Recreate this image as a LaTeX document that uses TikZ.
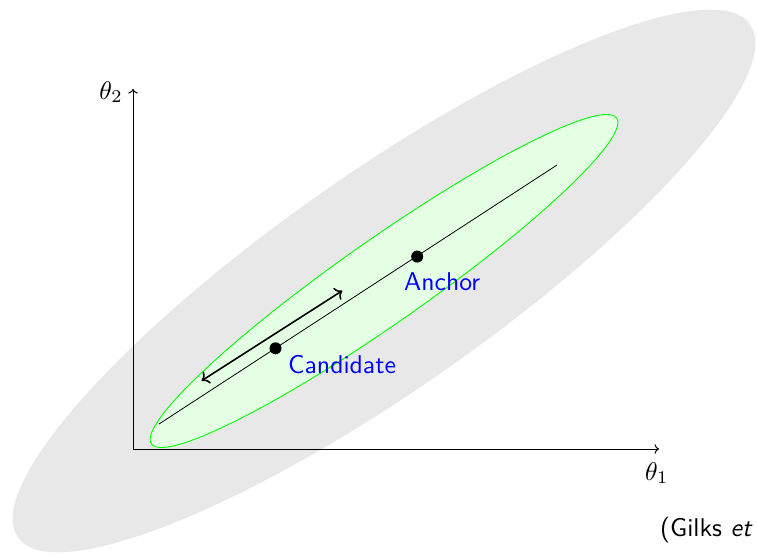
\documentclass[tikz,border=0pt]{standalone}
\usepackage{graphicx}
\usetikzlibrary{arrows.meta}
\newcommand\sbx[1]{\scalebox{2.57}{#1}}
\newcommand\mbx[1]{\scalebox{2.55}{#1}}
\begin{document}
\begin{tikzpicture}[x=1pt,y=-1pt,
  lbl/.style={text=blue,font=\sffamily,inner sep=0pt},
  plain/.style={inner sep=0pt},
  dot/.style={circle,fill=black,inner sep=0pt,minimum size=12pt},
  axis/.style={draw=black,line width=1pt,-{To[scale=1.2]}},
  outer/.style={fill=black!9},
  inner/.style={draw=green,fill=green!10,line width=0.9pt},
  track/.style={draw=black,line width=0.8pt},
  move/.style={draw=black,line width=1.6pt,{To[scale=1.3]}-{To[scale=1.3]}}]
\useasboundingbox (0,0) rectangle (757,554);
\clip (0,0) rectangle (757,554);
\fill[outer,rotate around={35:(384,281)}] (384,281) ellipse [x radius=447, y radius=108];
\path[inner,rotate around={35:(384,281)}] (384,281) ellipse [x radius=284, y radius=42];
\coordinate (O) at (133,449);
\coordinate (xend) at (659,449);
\coordinate (yend) at (133,89);
\draw[axis] (O) -- (xend);
\draw[axis] (O) -- (yend);
\coordinate (ls) at (159,424);
\coordinate (le) at (557,165);
\draw[track] (ls) -- (le);
\coordinate (ma) at (201.7,380.7);
\coordinate (mb) at (342.3,290.7);
\draw[move] (ma) -- (mb);
\node[dot] (cand) at (275.5,348.3) {};
\node[dot] (anch) at (417.2,256.6) {};
\node[lbl,anchor=base west] (candlbl) at (288,373) {\sbx{Candidate}};
\node[lbl,anchor=base west] (anchlbl) at (404,290) {\sbx{Anchor}};
\node[plain,anchor=base east] (t2) at (123,99) {\mbx{$\theta_2$}};
\node[plain,anchor=base west] (t1) at (645,480) {\mbx{$\theta_1$}};
\node[plain,anchor=base west,font=\sffamily] (cite) at (660,536) {\sbx{(Gilks \textsl{et}}};
\end{tikzpicture}
\end{document}
